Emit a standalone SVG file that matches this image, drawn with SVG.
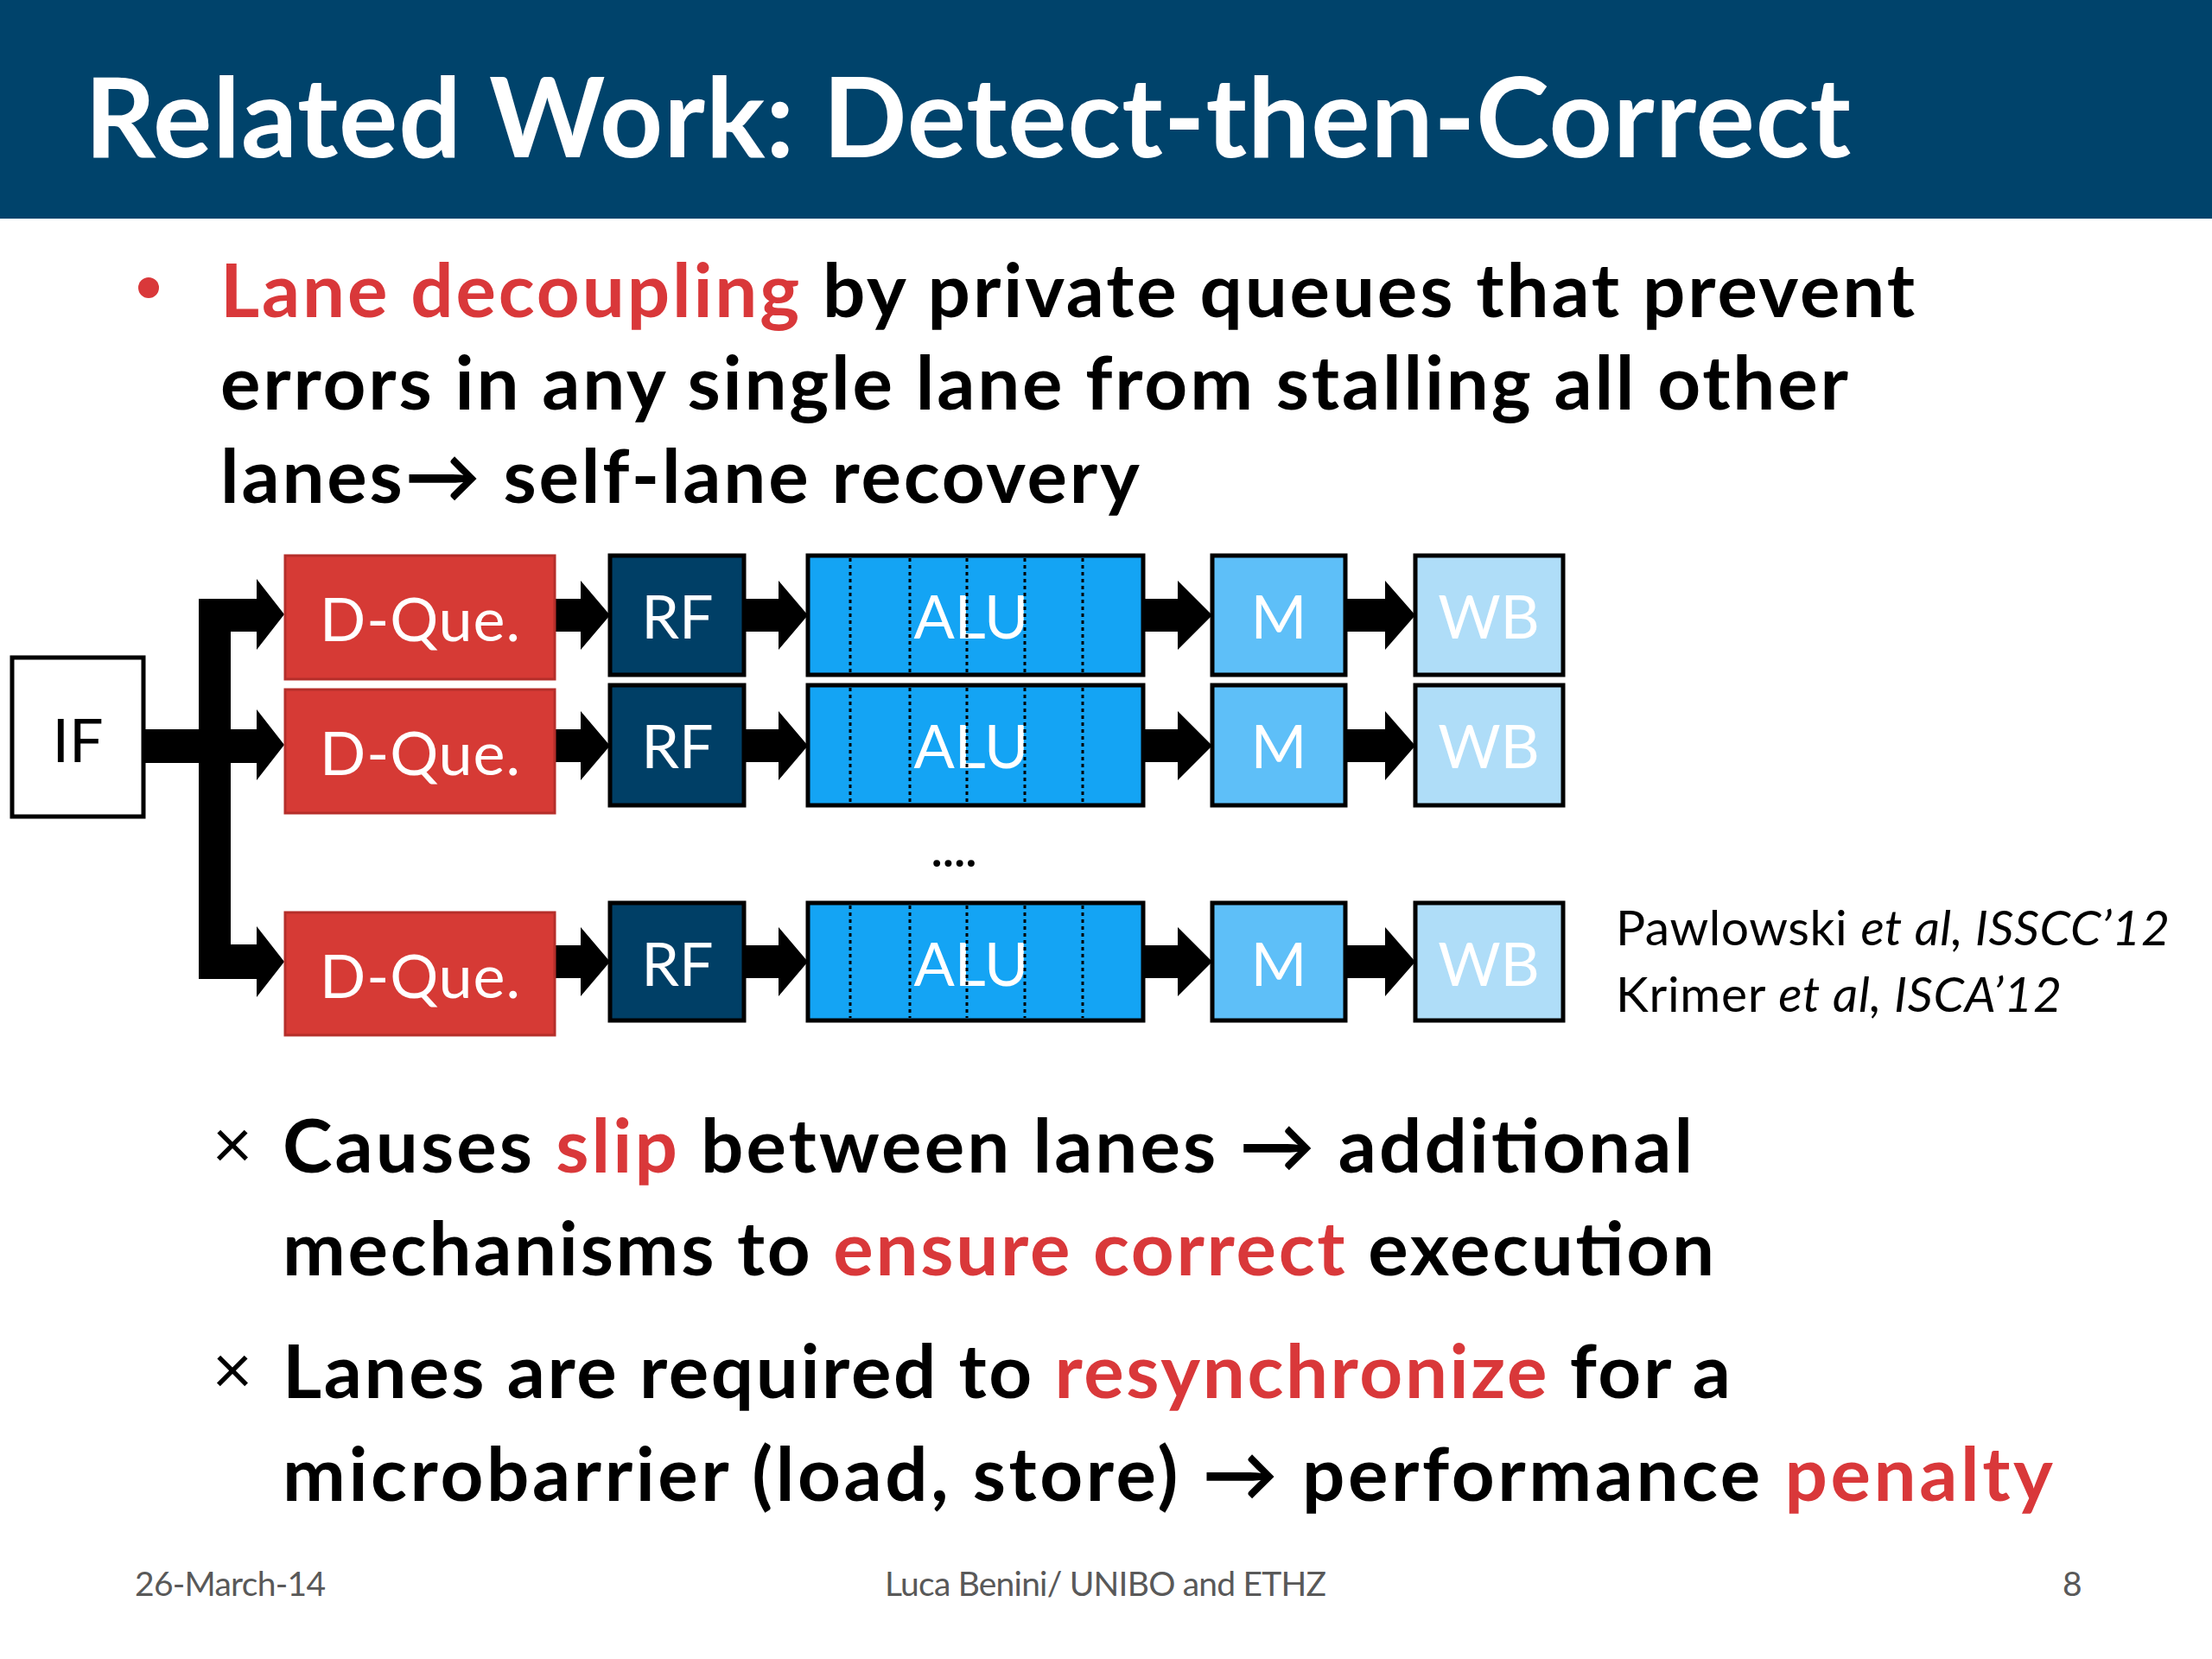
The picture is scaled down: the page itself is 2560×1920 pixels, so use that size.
<svg xmlns="http://www.w3.org/2000/svg" width="2560" height="1920" viewBox="0 0 2560 1920">
<style>
text{font-family:Lato,"Open Sans","DejaVu Sans",sans-serif}
.title{font-weight:700;font-size:128px;fill:#fff}
.body{font-weight:700;font-size:87px;fill:#000}
.red{fill:#D9383A}
.lbl{font-size:70px;fill:#fff;text-anchor:middle}
.box{stroke:#000;stroke-width:5}
.dq{fill:#D63A35;stroke:#B52E2A;stroke-width:3}
.rf{fill:#003F66}
.alu{fill:#14A4F4}
.m{fill:#5EBFF8}
.wb{fill:#AFDDF8}
.dot{stroke:#000;stroke-width:3;stroke-dasharray:4 4}
.cite{font-size:57px;fill:#000}
.foot{font-size:39px;fill:#595959}
.arr{fill:#000}
</style>
<rect x="0" y="0" width="2560" height="253" fill="#00436B"/>
<text class="title" x="98" y="182" textLength="2044">Related Work: Detect-then-Correct</text>

<circle cx="172" cy="333" r="12" fill="#D9383A"/>
<text class="body" x="255" y="367" textLength="1961"><tspan class="red">Lane decoupling</tspan> by private queues that prevent</text>
<text class="body" x="255" y="474" textLength="1884">errors in any single lane from stalling all other</text>
<text class="body" x="255" y="582" textLength="1064">lanes→ self-lane recovery</text>

<g id="connectors">
<path class="arr" d="M166,844 H297 V821 L329,862 L297,903 V883 H166 Z"/>
<path class="arr" d="M230,693 H297 V670 L329,711 L297,752 V731 H267 V1093 H297 V1072 L329,1113 L297,1154 V1133 H230 Z"/>
<path class="arr" d="M642,693 H672 V672 L706,712 L672,752 V731 H642 Z"/>
<path class="arr" d="M642,844 H672 V823 L706,863 L672,903 V882 H642 Z"/>
<path class="arr" d="M642,1094 H672 V1073 L706,1113 L672,1153 V1132 H642 Z"/>
<path class="arr" d="M861,693 H901 V672 L935,712 L901,752 V731 H861 Z"/>
<path class="arr" d="M861,844 H901 V823 L935,863 L901,903 V882 H861 Z"/>
<path class="arr" d="M861,1094 H901 V1073 L935,1113 L901,1153 V1132 H861 Z"/>
<path class="arr" d="M1323,693 H1363 V672 L1403,712 L1363,752 V731 H1323 Z"/>
<path class="arr" d="M1323,844 H1363 V823 L1403,863 L1363,903 V882 H1323 Z"/>
<path class="arr" d="M1323,1094 H1363 V1073 L1403,1113 L1363,1153 V1132 H1323 Z"/>
<path class="arr" d="M1557,693 H1603 V672 L1638,712 L1603,752 V731 H1557 Z"/>
<path class="arr" d="M1557,844 H1603 V823 L1638,863 L1603,903 V882 H1557 Z"/>
<path class="arr" d="M1557,1094 H1603 V1073 L1638,1113 L1603,1153 V1132 H1557 Z"/>
</g>

<g id="IF">
<rect x="14" y="761" width="152" height="184" fill="#fff" class="box"/>
<text x="90" y="882" font-size="70" text-anchor="middle" fill="#000">IF</text>
</g>

<g id="dque1"><rect class="dq" x="330" y="643" width="312" height="143"/><text class="lbl" x="486" y="742" textLength="232">D-Que.</text></g>
<g id="dque2"><rect class="dq" x="330" y="798" width="312" height="143"/><text class="lbl" x="486" y="897" textLength="232">D-Que.</text></g>
<g id="dque3"><rect class="dq" x="330" y="1056" width="312" height="142"/><text class="lbl" x="486" y="1155" textLength="232">D-Que.</text></g>

<g id="rf1"><rect class="box rf" x="706" y="643" width="155" height="138"/><text class="lbl" x="784" y="739">RF</text></g>
<g id="rf2"><rect class="box rf" x="706" y="793" width="155" height="139"/><text class="lbl" x="784" y="889">RF</text></g>
<g id="rf3"><rect class="box rf" x="706" y="1045" width="155" height="136"/><text class="lbl" x="784" y="1141">RF</text></g>

<g id="alu1"><rect class="box alu" x="935" y="643" width="388" height="138"/><text class="lbl" x="1124" y="739">ALU</text>
<path class="dot" d="M984,646V778M1053,646V778M1119,646V778M1186,646V778M1253,646V778"/></g>
<g id="alu2"><rect class="box alu" x="935" y="793" width="388" height="139"/><text class="lbl" x="1124" y="889">ALU</text>
<path class="dot" d="M984,796V929M1053,796V929M1119,796V929M1186,796V929M1253,796V929"/></g>
<g id="alu3"><rect class="box alu" x="935" y="1045" width="388" height="136"/><text class="lbl" x="1124" y="1141">ALU</text>
<path class="dot" d="M984,1048V1178M1053,1048V1178M1119,1048V1178M1186,1048V1178M1253,1048V1178"/></g>

<g id="m1"><rect class="box m" x="1403" y="643" width="154" height="138"/><text class="lbl" x="1480" y="739">M</text></g>
<g id="m2"><rect class="box m" x="1403" y="793" width="154" height="139"/><text class="lbl" x="1480" y="889">M</text></g>
<g id="m3"><rect class="box m" x="1403" y="1045" width="154" height="136"/><text class="lbl" x="1480" y="1141">M</text></g>

<g id="wb1"><rect class="box wb" x="1638" y="643" width="171" height="138"/><text class="lbl" x="1723" y="739">WB</text></g>
<g id="wb2"><rect class="box wb" x="1638" y="793" width="171" height="139"/><text class="lbl" x="1723" y="889">WB</text></g>
<g id="wb3"><rect class="box wb" x="1638" y="1045" width="171" height="136"/><text class="lbl" x="1723" y="1141">WB</text></g>

<text x="1078" y="1003" font-size="52" font-weight="700" textLength="52" fill="#000">....</text>

<text class="cite" x="1870" y="1094" textLength="641">Pawlowski <tspan font-style="italic">et al, ISSCC’12</tspan></text>
<text class="cite" x="1870" y="1171" textLength="516">Krimer <tspan font-style="italic">et al, ISCA’12</tspan></text>

<text x="269" y="1352" font-size="80" text-anchor="middle" fill="#000">×</text>
<text class="body" x="327" y="1357" textLength="1632">Causes <tspan class="red">slip</tspan> between lanes → additional</text>
<text class="body" x="327" y="1476" textLength="1657">mechanisms to <tspan class="red">ensure correct</tspan> execution</text>
<text x="269" y="1613" font-size="80" text-anchor="middle" fill="#000">×</text>
<text class="body" x="327" y="1618" textLength="1676">Lanes are required to <tspan class="red">resynchronize</tspan> for a</text>
<text class="body" x="327" y="1737" textLength="2049">microbarrier (load, store) → performance <tspan class="red">penalty</tspan></text>

<text class="foot" x="156" y="1847" textLength="221">26-March-14</text>
<text class="foot" x="1024" y="1847" textLength="511">Luca Benini/ UNIBO and ETHZ</text>
<text class="foot" x="2387" y="1847">8</text>
</svg>
